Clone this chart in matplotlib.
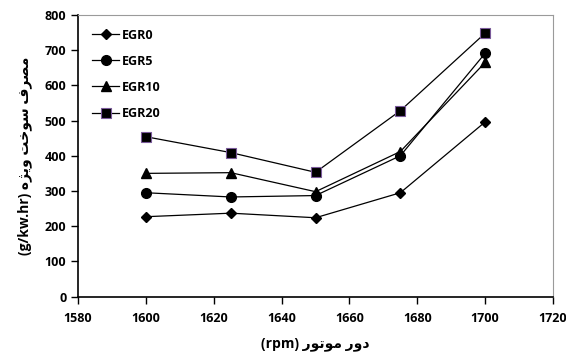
import matplotlib
matplotlib.use("Agg")
import matplotlib.pyplot as plt

plt.rcParams['font.family'] = ['Open Sans', 'DejaVu Sans']
plt.rcParams['font.weight'] = 'bold'

rpm = [1600, 1625, 1650, 1675, 1700]
egr0 = [227, 237, 224, 295, 496]
egr5 = [295, 283, 287, 400, 691]
egr10 = [350, 352, 298, 412, 665]
egr20 = [454, 409, 353, 528, 748]
series_names = ["EGR0", "EGR5", "EGR10", "EGR20"]


def shape(codes):
    # matplotlib does no Arabic shaping: give presentation forms in visual order
    return "".join(chr(c) for c in codes)[::-1]


# مصرف سوخت ویژه
fuel = shape([0xFEE3, 0xFEBC, 0xFEAE, 0xFED1, 0x20,
              0xFEB3, 0xFEEE, 0xFEA7, 0xFE96, 0x20,
              0xFEED, 0xFEF3, 0xFB8B, 0xFEE9])
# دور موتور
speed = shape([0xFEA9, 0xFEED, 0xFEAD, 0x20,
               0xFEE3, 0xFEEE, 0xFE97, 0xFEEE, 0xFEAD])

fig = plt.figure(figsize=(5.66, 3.54), dpi=100)
ax = fig.add_axes([0.138, 0.162, 0.839, 0.796])

ax.plot(rpm, egr0, color='black', lw=0.9, marker='D', ms=5, label=series_names[0])
ax.plot(rpm, egr5, color='black', lw=0.9, marker='o', ms=7, label=series_names[1])
ax.plot(rpm, egr10, color='black', lw=0.9, marker='^', ms=7, label=series_names[2])
ax.plot(rpm, egr20, color='black', lw=0.9, marker='s', ms=6.5, mec='#7a5a9a',
        mew=0.8, label=series_names[3])

ax.set_xlim(1580, 1720)
ax.set_ylim(0, 800)
ax.set_xticks(range(1580, 1721, 20))
ax.set_yticks(range(0, 801, 100))
ax.tick_params(direction='out', length=5, width=1, labelsize=9)
ax.tick_params(axis='x', pad=6)
for lab in ax.get_xticklabels() + ax.get_yticklabels():
    lab.set_fontweight('bold')

for s in ['top', 'right']:
    ax.spines[s].set_color('#9a9a9a')
for s in ['left', 'bottom']:
    ax.spines[s].set_linewidth(1.2)

ax.set_xlabel("(rpm) " + speed, fontsize=10, fontweight='bold', labelpad=9)
ax.set_ylabel("(g/kw.hr) " + fuel, fontsize=10, fontweight='bold', labelpad=9)

leg = ax.legend(loc='upper left', frameon=False, fontsize=9, handlelength=2.2,
                handletextpad=0.2, labelspacing=1.05, borderaxespad=0.7)
for t in leg.get_texts():
    t.set_fontweight('bold')

fig.savefig("out.png", dpi=100)
